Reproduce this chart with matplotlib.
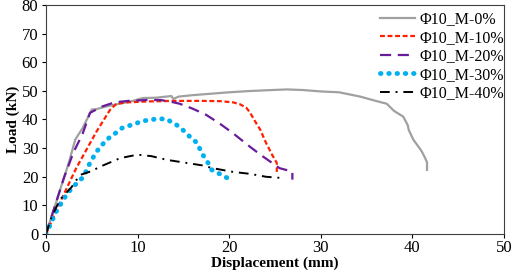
import matplotlib
matplotlib.use("Agg")
import matplotlib.pyplot as plt

plt.rcParams['font.family'] = ['Liberation Serif', 'DejaVu Serif']

# Load-displacement curves
x_m0 = [0, 0.5, 1.5, 2.5, 3.2, 4.0, 5.0, 5.5, 6.5, 8, 9.5, 10.6, 12, 13.7, 13.9, 14.5, 16, 18, 20,
        22, 24, 26.3, 28, 30, 32, 34.3, 36, 37.2, 38, 39, 39.5, 39.6, 40.1, 41, 41.4, 41.6, 41.6]
y_m0 = [0, 5, 15, 25, 33, 37, 43.5, 43.6, 44.5, 45.5, 46.5, 47.5, 47.6, 48.2, 47.2, 48, 48.5, 49, 49.5,
        49.9, 50.2, 50.5, 50.3, 49.8, 49.5, 48, 46.5, 45.5, 43, 41, 38, 36.4, 33, 29, 26.5, 25, 22.4]

x_m10 = [0, 1.5, 3.3, 5.5, 7, 7.7, 9, 11, 14, 17, 19, 20.4, 21.2, 21.9, 22.3, 22.8, 23.4, 24, 24.7, 25.2, 25.2]
y_m10 = [0, 10.8, 23, 35.7, 43.4, 45.5, 46, 46.3, 46.5, 46.5, 46.4, 46, 45.3, 44, 42.3, 39.5, 36.4, 32, 27.6, 24.8, 21.7]

x_m20 = [0, 1, 2, 3, 4, 4.8, 6.1, 7.5, 9, 11, 12.5, 13.5, 14.6, 16, 17.5, 19, 20.5, 22.3, 23.5, 25.5, 26.9, 26.9]
y_m20 = [0, 10, 20, 28.5, 35, 42.3, 44.5, 46, 46.5, 46.8, 46.8, 46.3, 45.5, 43.8, 41.6, 38.5, 35, 30.4, 27.5, 23, 21.8, 19]

x_m30 = [0, 0.6, 1.2, 2.1, 2.8, 4.1, 4.8, 5.5, 6.6, 7.5, 8.3, 9.7, 10.6, 12.1, 13.1, 13.9, 14.6,
         15.7, 16.5, 17, 17.7, 18.1, 18.8, 19.5, 20.3]
y_m30 = [0, 4.2, 8.4, 13, 16, 20, 24.8, 28.7, 32.9, 35, 37, 38.5, 39.5, 40.2, 40.2, 38.8, 37.4,
         34, 31.8, 28.3, 24.8, 22.4, 21.3, 20, 18.9]

x_m40 = [0, 0.5, 1.5, 2.8, 3.7, 5, 5.9, 7, 8.1, 9.5, 10.3, 11.5, 13.2, 15.4, 17, 18.2, 20.4, 22.3, 24, 26]
y_m40 = [0, 5, 11.9, 16.4, 20.6, 22, 23.5, 25, 26.5, 27.4, 27.6, 27.2, 25.9, 24.8, 24, 23, 21.7, 21, 20, 19.5]

labels = ["Φ10_M-0%", "Φ10_M-10%", "Φ10_M-20%", "Φ10_M-30%", "Φ10_M-40%"]

fig = plt.figure(figsize=(5.12, 2.72), dpi=100)
ax = fig.add_axes([0.0898, 0.1397, 0.8945, 0.842])

ax.plot(x_m0, y_m0, color='#a0a0a0', lw=1.6, label=labels[0])
ax.plot(x_m10, y_m10, color='#ff2000', lw=1.6, dashes=(2.2, 1.2), label=labels[1])
ax.plot(x_m20, y_m20, color='#6a1b9a', lw=1.6, dashes=(5, 3), label=labels[2])
ax.plot(x_m30, y_m30, color='#00b0f0', lw=3.5, linestyle=(0, (0.1, 1.6)),
        dash_capstyle='round', label=labels[3])
ax.plot(x_m40, y_m40, color='black', lw=1.4, dashes=(5, 3, 1, 3), label=labels[4])

ax.set_xlim(0, 50)
ax.set_ylim(0, 80)
ax.set_xticks([0, 10, 20, 30, 40, 50])
ax.set_yticks(range(0, 81, 10))
ax.tick_params(labelsize=12, length=3, width=0.8, direction='out', pad=2.5)
ax.tick_params(axis='x', pad=1.5)
for s in ax.spines.values():
    s.set_linewidth(0.8)
    s.set_color('#404040')

ax.set_xlabel("Displacement (mm)", fontsize=11, fontweight='bold', labelpad=0.5)
ax.set_ylabel("Load (kN)", fontsize=11, fontweight='bold', labelpad=1)

ax.legend(loc='upper right', frameon=False, fontsize=11.5, handlelength=2.2,
          handletextpad=0.3, labelspacing=0.16, borderaxespad=0.0,
          bbox_to_anchor=(1.015, 1.0))

fig.savefig("out.png", dpi=100)
